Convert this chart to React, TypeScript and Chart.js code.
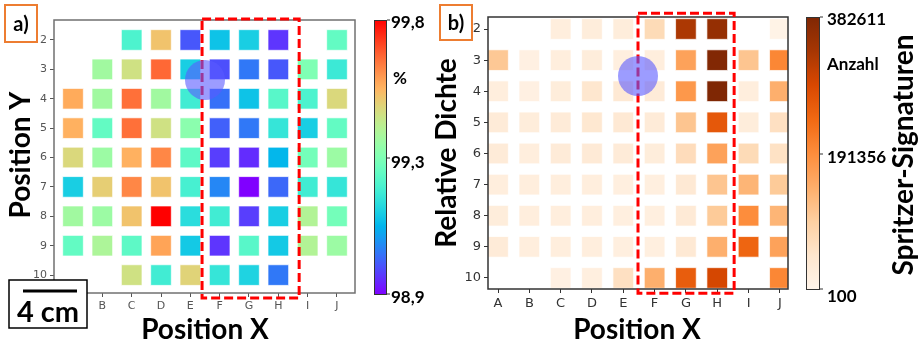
import React, { useEffect, useRef } from 'react';
import { Chart, registerables } from 'chart.js';
Chart.register(...registerables);

const columns = ['A', 'B', 'C', 'D', 'E', 'F', 'G', 'H', 'I', 'J'];
const rowLabels = [2, 3, 4, 5, 6, 7, 8, 9, 10];

const densityMin = 98.9;
const densityMax = 99.8;
const densityTickLabels = ['99,8', '99,3', '98,9'];
const countMin = 100;
const countMax = 382611;
const countTickLabels = ['382611', '191356', '100'];

// Relative density (%) per row (2..10), columns A..J
const relativeDensity: (number | null)[][] = [
  [null, null, 99.26, 99.55, 99.0, 99.15, 99.17, 98.96, null, 99.3],
  [null, 99.41, 99.49, 99.68, 99.17, 98.99, 99.04, 99.0, 99.35, 99.23],
  [99.59, 99.41, 99.67, 99.41, 99.24, 99.03, 99.15, 99.28, 99.26, 99.51],
  [99.58, 99.3, 99.67, 99.49, 99.37, 99.01, 99.04, 99.22, 99.17, 99.3],
  [99.51, 99.4, 99.58, 99.64, 99.29, 98.97, 98.95, 99.13, 99.33, 99.4],
  [99.17, 99.53, 99.64, 99.55, 99.25, 99.06, 98.9, 99.02, 99.24, 99.22],
  [99.41, 99.4, 99.55, 99.8, 99.2, 99.24, 98.97, 99.17, 99.44, 99.33],
  [99.3, 99.43, 99.29, 99.6, 99.16, 98.96, 99.28, 99.16, 99.44, 99.4],
  [null, null, 99.49, 99.24, 99.52, 99.22, 99.18, 99.04, null, null],
];

// Spatter signature counts per row (2..10), columns A..J
const spatterCount: (number | null)[][] = [
  [null, null, 23000, 26900, 26900, 72800, 329100, 355800, null, 7700],
  [107200, 15400, 23000, 26900, 19200, 23000, 160800, 378800, 111000, 199000],
  [23000, 15400, 26900, 46000, 38300, 30700, 176100, 382611, 23000, 141600],
  [30700, 26900, 30700, 42200, 38300, 30700, 111000, 264000, 26900, 61300],
  [30700, 23000, 30700, 34500, 30700, 26900, 69000, 160800, 72800, 57500],
  [23000, 23000, 23000, 23000, 19200, 19200, 38300, 111000, 134000, 103400],
  [26900, 23000, 23000, 23000, 19200, 19200, 34500, 103400, 191300, 134000],
  [30700, 23000, 23000, 23000, 19200, 19200, 38300, 141600, 244900, 160800],
  [null, null, 15400, 19200, 61300, 141600, 256400, 290800, null, 199000],
];

const clamp = (t: number) => Math.max(0, Math.min(1, t));

function rainbow(t: number): string {
  t = clamp(t);
  const r = Math.min(1, Math.abs(2 * t - 0.5));
  const g = Math.sin(Math.PI * t);
  const b = Math.cos((Math.PI * t) / 2);
  return `rgb(${Math.round(r * 255)},${Math.round(g * 255)},${Math.round(b * 255)})`;
}

const orangeStops = [
  [255, 245, 235], [254, 230, 206], [253, 208, 162], [253, 174, 107], [253, 141, 60],
  [241, 105, 19], [217, 72, 1], [166, 54, 3], [127, 39, 4],
];
function oranges(t: number): string {
  t = clamp(t);
  const p = t * (orangeStops.length - 1);
  const i = Math.min(orangeStops.length - 2, Math.floor(p));
  const f = p - i;
  const a = orangeStops[i], b = orangeStops[i + 1];
  const c = a.map((v, k) => Math.round(v + (b[k] - v) * f));
  return `rgb(${c[0]},${c[1]},${c[2]})`;
}

function buildPoints(table: (number | null)[][], colorFn: (v: number) => string) {
  const pts: { x: number; y: number }[] = [];
  const colors: string[] = [];
  table.forEach((row, i) => {
    row.forEach((v, j) => {
      if (v === null) return;
      pts.push({ x: j, y: rowLabels[i] });
      colors.push(colorFn(v));
    });
  });
  return { pts, colors };
}

const FONT = 'Lato, "Open Sans", sans-serif';

function drawLabelBox(ctx: CanvasRenderingContext2D, x: number, y: number, w: number, h: number, text: string) {
  ctx.save();
  ctx.fillStyle = '#fff';
  ctx.fillRect(x, y, w, h);
  ctx.strokeStyle = '#ED7D31';
  ctx.lineWidth = 2;
  ctx.strokeRect(x, y, w, h);
  ctx.fillStyle = '#000';
  ctx.font = `bold 20px ${FONT}`;
  ctx.textAlign = 'center';
  ctx.textBaseline = 'middle';
  ctx.fillText(text, x + w / 2, y + h / 2 + 1);
  ctx.restore();
}

function drawRotated(ctx: CanvasRenderingContext2D, text: string, x: number, y: number, size: number) {
  ctx.save();
  ctx.translate(x, y);
  ctx.rotate(-Math.PI / 2);
  ctx.font = `bold ${size}px ${FONT}`;
  ctx.fillStyle = '#000';
  ctx.textAlign = 'center';
  ctx.textBaseline = 'middle';
  ctx.fillText(text, 0, 0);
  ctx.restore();
}

function drawText(ctx: CanvasRenderingContext2D, text: string, x: number, y: number, size: number, align: CanvasTextAlign = 'left') {
  ctx.save();
  ctx.font = `bold ${size}px ${FONT}`;
  ctx.fillStyle = '#000';
  ctx.textAlign = align;
  ctx.textBaseline = 'alphabetic';
  ctx.fillText(text, x, y);
  ctx.restore();
}

function drawColorbar(ctx: CanvasRenderingContext2D, x: number, top: number, w: number, bottom: number, fn: (t: number) => string, tickYs: number[]) {
  ctx.save();
  const g = ctx.createLinearGradient(0, bottom, 0, top);
  for (let i = 0; i <= 40; i++) g.addColorStop(i / 40, fn(i / 40));
  ctx.fillStyle = g;
  ctx.fillRect(x, top, w, bottom - top);
  ctx.strokeStyle = '#333';
  ctx.lineWidth = 1;
  ctx.strokeRect(x + 0.5, top + 0.5, w - 1, bottom - top - 1);
  ctx.beginPath();
  tickYs.forEach((ty) => {
    ctx.moveTo(x + w, ty);
    ctx.lineTo(x + w + 3, ty);
  });
  ctx.stroke();
  ctx.restore();
}

function drawDashedRect(chart: any, x0: number, x1: number, y0: number, y1: number) {
  const ctx = chart.ctx;
  const sx = chart.scales.x, sy = chart.scales.y;
  const l = sx.getPixelForValue(x0), r = sx.getPixelForValue(x1);
  const t = sy.getPixelForValue(y0), b = sy.getPixelForValue(y1);
  ctx.save();
  ctx.strokeStyle = '#FF0000';
  ctx.lineWidth = 3;
  ctx.setLineDash([9, 4]);
  ctx.strokeRect(l, t, r - l, b - t);
  ctx.restore();
}

function drawCircle(chart: any, cx: number, cy: number, rad: number) {
  const ctx = chart.ctx;
  const x = chart.scales.x.getPixelForValue(cx);
  const y = chart.scales.y.getPixelForValue(cy);
  ctx.save();
  ctx.fillStyle = 'rgba(90,90,255,0.6)';
  ctx.beginPath();
  ctx.arc(x, y, rad, 0, Math.PI * 2);
  ctx.fill();
  ctx.restore();
}

const overlayA = {
  id: 'overlayA',
  afterDraw(chart: any) {
    const ctx = chart.ctx as CanvasRenderingContext2D;
    const a = chart.chartArea;
    ctx.save();
    ctx.strokeStyle = '#707070';
    ctx.lineWidth = 1.5;
    ctx.strokeRect(a.left, a.top, a.right - a.left, a.bottom - a.top);
    ctx.restore();
    drawDashedRect(chart, 4.4, 7.71, 1.29, 10.78);
    drawCircle(chart, 4.5, 3.36, 20);
    drawColorbar(ctx, 374, 20, 13, 295, rainbow, [20, 158, 294]);
    drawText(ctx, densityTickLabels[0], 391, 28, 17);
    drawText(ctx, densityTickLabels[1], 391, 168, 17);
    drawText(ctx, densityTickLabels[2], 391, 303, 17);
    drawText(ctx, '%', 393, 84, 17);
    drawRotated(ctx, 'Position Y', 21, 155, 28);
    drawText(ctx, 'Position X', 205, 339, 28, 'center');
    drawLabelBox(ctx, 5, 5, 32, 37, 'a)');
    // scale bar box
    ctx.save();
    ctx.fillStyle = '#fff';
    ctx.fillRect(9, 280, 78, 48);
    ctx.strokeStyle = '#000';
    ctx.lineWidth = 1.5;
    ctx.strokeRect(9, 280, 78, 48);
    ctx.lineWidth = 3;
    ctx.beginPath();
    ctx.moveTo(23, 291);
    ctx.lineTo(77, 291);
    ctx.stroke();
    ctx.restore();
    drawText(ctx, '4 cm', 48, 322, 29, 'center');
  },
};

const overlayB = {
  id: 'overlayB',
  afterDraw(chart: any) {
    const ctx = chart.ctx as CanvasRenderingContext2D;
    const a = chart.chartArea;
    ctx.save();
    ctx.strokeStyle = '#333';
    ctx.lineWidth = 1.5;
    ctx.strokeRect(a.left, a.top, a.right - a.left, a.bottom - a.top);
    ctx.restore();
    drawDashedRect(chart, 4.47, 7.54, 1.49, 10.49);
    drawCircle(chart, 4.47, 3.51, 20);
    drawColorbar(ctx, 806, 17, 14, 290, oranges, [17, 154, 289]);
    drawText(ctx, countTickLabels[0], 827, 25, 17);
    drawText(ctx, 'Anzahl', 827, 70, 17);
    drawText(ctx, countTickLabels[1], 827, 163, 17);
    drawText(ctx, countTickLabels[2], 827, 302, 17);
    drawRotated(ctx, 'Relative Dichte', 447, 153, 28);
    drawRotated(ctx, 'Spritzer-Signaturen', 904, 155, 28);
    drawText(ctx, 'Position X', 637, 339, 28, 'center');
    drawLabelBox(ctx, 440, 5, 32, 35, 'b)');
  },
};

function makeConfig(
  table: (number | null)[][],
  colorFn: (v: number) => string,
  xr: [number, number],
  yr: [number, number],
  padding: any,
  yWidth: number,
  xHeight: number,
  tickFont: number,
  tickColor: string,
  plugin: any
) {
  const { pts, colors } = buildPoints(table, colorFn);
  return {
    type: 'scatter' as const,
    data: {
      datasets: [
        {
          data: pts,
          pointStyle: 'rect',
          pointRadius: 14.6,
          pointHoverRadius: 14.6,
          pointBackgroundColor: colors,
          pointBorderColor: 'rgba(255,255,255,0.7)',
          pointBorderWidth: 1,
          showLine: false,
        },
      ],
    },
    options: {
      animation: false as const,
      responsive: false,
      maintainAspectRatio: false,
      events: [],
      layout: { padding },
      plugins: { legend: { display: false }, tooltip: { enabled: false } },
      scales: {
        x: {
          type: 'linear' as const,
          min: xr[0],
          max: xr[1],
          afterBuildTicks: (s: any) => {
            s.ticks = columns.map((_, i) => ({ value: i }));
          },
          afterFit: (s: any) => {
            s.height = xHeight;
          },
          ticks: {
            autoSkip: false,
            maxRotation: 0,
            padding: 3,
            color: tickColor,
            font: { family: '"DejaVu Sans", sans-serif', size: tickFont },
            callback: (v: any) => columns[v] ?? '',
          },
          grid: { drawOnChartArea: false, drawTicks: true, tickLength: 4, color: tickColor },
          border: { display: false },
        },
        y: {
          type: 'linear' as const,
          reverse: true,
          min: yr[0],
          max: yr[1],
          afterBuildTicks: (s: any) => {
            s.ticks = rowLabels.map((v) => ({ value: v }));
          },
          afterFit: (s: any) => {
            s.width = yWidth;
          },
          ticks: {
            autoSkip: false,
            padding: 3,
            color: tickColor,
            font: { family: '"DejaVu Sans", sans-serif', size: tickFont },
            callback: (v: any) => String(v),
          },
          grid: { drawOnChartArea: false, drawTicks: true, tickLength: 4, color: tickColor },
          border: { display: false },
        },
      },
    },
    plugins: [plugin],
  };
}

export default function App() {
  const refA = useRef<HTMLCanvasElement>(null);
  const refB = useRef<HTMLCanvasElement>(null);

  useEffect(() => {
    document.body.style.margin = '0';
    const cA = makeConfig(
      relativeDensity,
      (v) => rainbow((v - densityMin) / (densityMax - densityMin)),
      [-0.648, 9.614],
      [1.32, 10.61],
      { left: 24, top: 20, right: 564, bottom: 29 },
      30,
      20,
      11,
      '#555',
      overlayA
    );
    const cB = makeConfig(
      spatterCount,
      (v) => oranges((v - countMin) / (countMax - countMin)),
      [-0.32, 9.26],
      [1.614, 10.354],
      { left: 463, top: 17, right: 131, bottom: 31 },
      25,
      22,
      13,
      '#333',
      overlayB
    );
    const chartA = new Chart(refA.current as HTMLCanvasElement, cA as any);
    const chartB = new Chart(refB.current as HTMLCanvasElement, cB as any);
    return () => {
      chartA.destroy();
      chartB.destroy();
    };
  }, []);

  const style: React.CSSProperties = { position: 'absolute', left: 0, top: 0 };
  return (
    <div style={{ position: 'relative', width: 919, height: 342, background: '#fff' }}>
      <canvas ref={refA} width={919} height={342} style={style} />
      <canvas ref={refB} width={919} height={342} style={style} />
    </div>
  );
}
